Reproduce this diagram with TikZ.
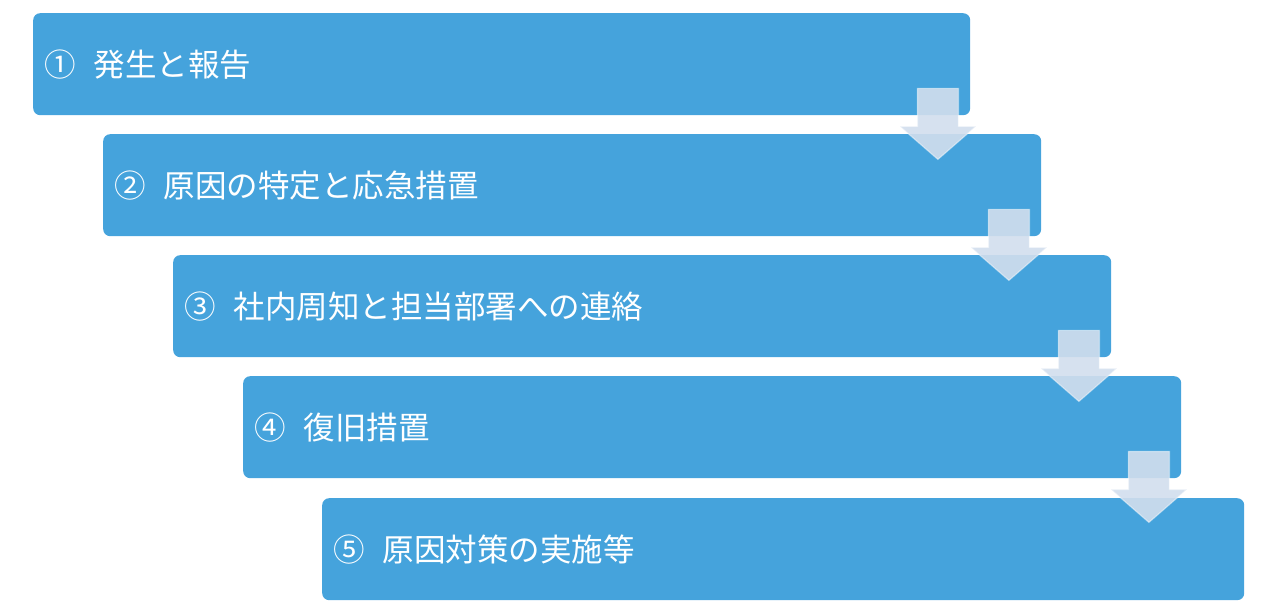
\documentclass[tikz,border=0pt]{standalone}
\usepackage{fontspec}
\usetikzlibrary{calc}
\newfontfamily\jpfont{Noto Sans CJK JP}
\definecolor{stepblue}{RGB}{69,163,220}
\definecolor{arrowgray}{RGB}{210,222,237}
\tikzset{
    stepbox/.style={rectangle, rounded corners=7pt, fill=stepblue, draw=none,
        anchor=north west, minimum height=102pt, inner xsep=11pt, align=left,
        text=white, font=\jpfont\fontsize{31.5pt}{36pt}\selectfont},
    flowarrow/.style={fill=arrowgray, fill opacity=0.9, draw=white, draw opacity=0.45, line width=1.2pt}
}
\begin{document}
\begin{tikzpicture}[x=1pt,y=1pt]
        \useasboundingbox (0,0) rectangle (1280,-612);
        %%%%%%%%%% Passi %%%%%%%%%%
        \node[stepbox, text width=915pt] (s1) at (33,-13)  {①\hspace{18pt}発生と報告};
        \node[stepbox, text width=916pt] (s2) at (103,-134) {②\hspace{18pt}原因の特定と応急措置};
        \node[stepbox, text width=916pt] (s3) at (173,-255) {③\hspace{18pt}社内周知と担当部署への連絡};
        \node[stepbox, text width=916pt] (s4) at (243,-376) {④\hspace{18pt}復旧措置};
        \node[stepbox, text width=900pt] (s5) at (322,-498) {⑤\hspace{18pt}原因対策の実施等};

        %%%%%%%%% Frecce %%%%%%%%%%
        \draw[flowarrow] ($(s1.south east)+(-53,27)$) -- ++(41,0) -- ++(0,-38) -- ++(17.5,0) -- ++(-38,-33) -- ++(-38,33) -- ++(17.5,0) -- cycle;
        \draw[flowarrow] ($(s2.south east)+(-53,27)$) -- ++(41,0) -- ++(0,-38) -- ++(17.5,0) -- ++(-38,-33) -- ++(-38,33) -- ++(17.5,0) -- cycle;
        \draw[flowarrow] ($(s3.south east)+(-53,27)$) -- ++(41,0) -- ++(0,-38) -- ++(17.5,0) -- ++(-38,-33) -- ++(-38,33) -- ++(17.5,0) -- cycle;
        \draw[flowarrow] ($(s4.south east)+(-53,27)$) -- ++(41,0) -- ++(0,-38) -- ++(17.5,0) -- ++(-38,-33) -- ++(-38,33) -- ++(17.5,0) -- cycle;
    \end{tikzpicture}
\end{document}
